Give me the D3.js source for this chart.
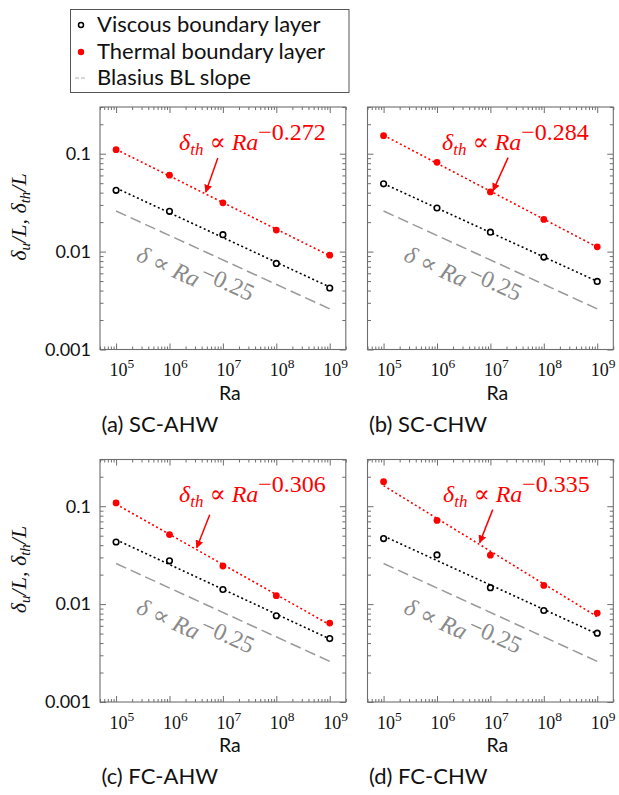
<!DOCTYPE html>
<html><head><meta charset="utf-8">
<script src="https://cdn.jsdelivr.net/npm/d3@7"></script>
<style>body{margin:0;background:#fff;} svg{display:block;}</style>
</head><body>
<svg id="chart" width="619" height="795"></svg>
<script>
// ---------------- data ----------------
const raValues = [1e5, 1e6, 1e7, 1e8, 1e9];
const panelCaptions = ['(a) SC-AHW', '(b) SC-CHW', '(c) FC-AHW', '(d) FC-CHW'];
const viscousA = [0.0423, 0.0258, 0.0149, 0.00757, 0.00425];
const viscousB = [0.0492, 0.0279, 0.0158, 0.0088, 0.00496];
const viscousC = [0.0431, 0.0277, 0.0141, 0.0076, 0.00445];
const viscousD = [0.0467, 0.0318, 0.0147, 0.0086, 0.00505];
const thermalA = [0.110, 0.0604, 0.0315, 0.0166, 0.0092];
const thermalB = [0.153, 0.0817, 0.0407, 0.0213, 0.0112];
const thermalC = [0.108, 0.0513, 0.0245, 0.0122, 0.0064];
const thermalD = [0.178, 0.0716, 0.0316, 0.0155, 0.0081];
const thermalExponentLabels = ['−0.272', '−0.284', '−0.306', '−0.335'];
const arrowTipRa = [Math.pow(10, 6.68), Math.pow(10, 7.05), Math.pow(10, 6.51), Math.pow(10, 6.80)];
const blasiusRa = [1e5, 1e9];
const blasiusDelta = [0.026, 0.0026];
const blasiusExponentLabel = '−0.25';
const xMajorTicks = [1e5, 1e6, 1e7, 1e8, 1e9];
const xTickExponents = ['5', '6', '7', '8', '9'];
const yMajorTicks = [0.001, 0.01, 0.1];
const yTickLabels = ['0.001', '0.01', '0.1'];
const legendLabels = ['Viscous boundary layer', 'Thermal boundary layer', 'Blasius BL slope'];
const xDomain = [5e4, 2e9];
const yDomain = [0.001, 0.3];

// ---------------- layout ----------------
const viscousSets = [viscousA, viscousB, viscousC, viscousD];
const thermalSets = [thermalA, thermalB, thermalC, thermalD];
const W = 245.8, H = 242.5;
const panelPos = [
  {left: 100, top: 107, showY: true, redX: 79},
  {left: 367.5, top: 107, showY: false, redX: 74.5},
  {left: 100, top: 459.5, showY: true, redX: 79},
  {left: 367.5, top: 459.5, showY: false, redX: 75.5}
];
const arrowOffsets = [[12, -34], [15, -33], [13, -33], [13, -33]];

const SANS = 'Lato, "Open Sans", sans-serif';
const SERIF = '"Liberation Serif", "DejaVu Serif", serif';
const FRAME = '#6e6e6e';
const RED = '#ff0000';
const GRAY = '#9a9a9a';

const svg = d3.select('#chart');
const defs = svg.append('defs');
defs.append('marker').attr('id', 'arrowRed')
  .attr('viewBox', '0 0 10 10').attr('refX', 9).attr('refY', 5)
  .attr('markerWidth', 8).attr('markerHeight', 8).attr('markerUnits', 'userSpaceOnUse')
  .attr('orient', 'auto')
  .append('path').attr('d', 'M0,0 L10,5 L0,10 z').attr('fill', RED);

const x = d3.scaleLog().domain(xDomain).range([0, W]);
const y = d3.scaleLog().domain(yDomain).range([H, 0]);

function minorTicks(domain, majors) {
  const out = [];
  const lo = Math.floor(Math.log10(domain[0])), hi = Math.ceil(Math.log10(domain[1]));
  for (let e = lo; e <= hi; e++) {
    for (let m = 1; m <= 9; m++) {
      const v = m * Math.pow(10, e);
      if (v >= domain[0] * 0.999 && v <= domain[1] * 1.001 && !majors.some(t => Math.abs(t - v) / v < 1e-6)) out.push(v);
    }
  }
  return out;
}
const xMinor = minorTicks(xDomain, xMajorTicks);
const yMinor = minorTicks(yDomain, yMajorTicks);

function logFit(xs, ys) {
  const lx = xs.map(Math.log10), ly = ys.map(Math.log10);
  const mx = d3.mean(lx), my = d3.mean(ly);
  let sxy = 0, sxx = 0;
  lx.forEach((v, i) => { sxy += (v - mx) * (ly[i] - my); sxx += (v - mx) * (v - mx); });
  const slope = sxy / sxx;
  return r => Math.pow(10, my + slope * (Math.log10(r) - mx));
}

panelPos.forEach((p, i) => {
  const g = svg.append('g').attr('transform', `translate(${p.left},${p.top})`);

  const styleAxis = sel => {
    sel.select('.domain').remove();
    sel.selectAll('line').attr('stroke', FRAME).attr('stroke-width', 1);
    sel.selectAll('text').remove();
  };
  g.append('g').attr('transform', `translate(0,${H})`)
    .call(d3.axisBottom(x).tickValues(xMajorTicks).tickSize(-6).tickFormat('')).call(styleAxis);
  g.append('g').attr('transform', `translate(0,${H})`)
    .call(d3.axisBottom(x).tickValues(xMinor).tickSize(-3).tickFormat('')).call(styleAxis);
  g.append('g')
    .call(d3.axisTop(x).tickValues(xMajorTicks).tickSize(-6).tickFormat('')).call(styleAxis);
  g.append('g')
    .call(d3.axisTop(x).tickValues(xMinor).tickSize(-3).tickFormat('')).call(styleAxis);
  g.append('g')
    .call(d3.axisLeft(y).tickValues(yMajorTicks).tickSize(-6).tickFormat('')).call(styleAxis);
  g.append('g')
    .call(d3.axisLeft(y).tickValues(yMinor).tickSize(-3.5).tickFormat('')).call(styleAxis);
  g.append('g').attr('transform', `translate(${W},0)`)
    .call(d3.axisRight(y).tickValues(yMajorTicks).tickSize(-6).tickFormat('')).call(styleAxis);
  g.append('g').attr('transform', `translate(${W},0)`)
    .call(d3.axisRight(y).tickValues(yMinor).tickSize(-3.5).tickFormat('')).call(styleAxis);

  g.append('rect').attr('x', 0).attr('y', 0).attr('width', W).attr('height', H)
    .attr('fill', 'none').attr('stroke', FRAME).attr('stroke-width', 1.1);

  // x tick labels
  xMajorTicks.forEach((t, k) => {
    const tx = g.append('text').attr('x', x(t) - 6.5).attr('y', H + 26.5)
      .attr('font-family', SERIF).attr('font-size', 18).attr('fill', '#111');
    tx.append('tspan').text('10');
    tx.append('tspan').attr('dy', -8).attr('font-size', 13.5).text(xTickExponents[k]);
  });
  if (p.showY) {
    yMajorTicks.forEach((t, k) => {
      g.append('text').attr('x', -9).attr('y', y(t)).attr('dy', '0.35em')
        .attr('text-anchor', 'end').attr('font-family', SANS).attr('font-size', 18)
        .attr('fill', '#111').text(yTickLabels[k]);
    });
    const yl = svg.append('text')
      .attr('transform', `translate(26,${p.top + 110}) rotate(-90)`)
      .attr('text-anchor', 'middle').attr('font-family', SERIF).attr('font-size', 22)
      .attr('font-style', 'italic').attr('fill', '#111');
    yl.append('tspan').text('δ');
    yl.append('tspan').attr('dy', 4).attr('font-size', 15).text('u');
    yl.append('tspan').attr('dy', -4).text('/L, δ');
    yl.append('tspan').attr('dy', 4).attr('font-size', 15).text('th');
    yl.append('tspan').attr('dy', -4).text('/L');
  }
  g.append('text').attr('x', W / 2 + 7).attr('y', H + 50).attr('text-anchor', 'middle')
    .attr('font-family', SANS).attr('font-size', 19.5).attr('fill', '#111').text('Ra');
  g.append('text').attr('x', 1.5).attr('y', H + 82)
    .attr('font-family', SANS).attr('font-size', 22).attr('fill', '#111').text(panelCaptions[i]);

  const plot = g.append('g');
  plot.append('path')
    .attr('d', d3.line().x(d => x(d[0])).y(d => y(d[1]))(blasiusRa.map((r, k) => [r, blasiusDelta[k]])))
    .attr('stroke', GRAY).attr('stroke-width', 1.5).attr('stroke-dasharray', '11,5').attr('fill', 'none');

  const vFit = logFit(raValues, viscousSets[i]);
  const tFit = logFit(raValues, thermalSets[i]);
  plot.append('path').attr('d', d3.line().x(d => x(d)).y(d => y(vFit(d)))([raValues[0], raValues[4]]))
    .attr('stroke', '#000').attr('stroke-width', 1.6).attr('stroke-dasharray', '2,2.6').attr('fill', 'none');
  plot.append('path').attr('d', d3.line().x(d => x(d)).y(d => y(tFit(d)))([raValues[0], raValues[4]]))
    .attr('stroke', RED).attr('stroke-width', 1.6).attr('stroke-dasharray', '2,2.6').attr('fill', 'none');

  plot.selectAll('.v').data(raValues).enter().append('circle')
    .attr('cx', d => x(d)).attr('cy', (d, k) => y(viscousSets[i][k])).attr('r', 2.8)
    .attr('fill', '#fff').attr('stroke', '#000').attr('stroke-width', 1.6);
  plot.selectAll('.t').data(raValues).enter().append('circle')
    .attr('cx', d => x(d)).attr('cy', (d, k) => y(thermalSets[i][k])).attr('r', 3.4)
    .attr('fill', RED);

  // red annotation
  const rt = g.append('text').attr('x', p.redX).attr('y', 42.5)
    .attr('font-family', SERIF).attr('font-size', 24).attr('fill', RED);
  rt.append('tspan').attr('font-style', 'italic').text('δ');
  rt.append('tspan').attr('font-style', 'italic').attr('font-size', 17).attr('dy', 5).text('th');
  rt.append('tspan').attr('dy', -5).text(' ∝ ');
  rt.append('tspan').attr('font-style', 'italic').text('Ra');
  rt.append('tspan').attr('dy', -10).text(thermalExponentLabels[i]);

  const tipX = x(arrowTipRa[i]), tipY = y(tFit(arrowTipRa[i])) - 2;
  g.append('line').attr('x1', tipX + arrowOffsets[i][0]).attr('y1', tipY + arrowOffsets[i][1])
    .attr('x2', tipX).attr('y2', tipY).attr('stroke', RED).attr('stroke-width', 1.5)
    .attr('marker-end', 'url(#arrowRed)');

  const ang = Math.atan2(y(blasiusDelta[1]) - y(blasiusDelta[0]), x(blasiusRa[1]) - x(blasiusRa[0])) * 180 / Math.PI;
  const gt = g.append('text').attr('transform', `translate(35,153) rotate(${ang})`)
    .attr('font-family', SERIF).attr('font-size', 24).attr('fill', '#8a8a8a');
  gt.append('tspan').attr('font-style', 'italic').text('δ');
  gt.append('tspan').text(' ∝ ');
  gt.append('tspan').attr('font-style', 'italic').text('Ra');
  gt.append('tspan').attr('dy', -10).text(blasiusExponentLabel);
});

// ---------------- legend ----------------
const lg = svg.append('g');
lg.append('rect').attr('x', 70.5).attr('y', 9.5).attr('width', 278.5).attr('height', 83)
  .attr('fill', '#fff').attr('stroke', '#555').attr('stroke-width', 1);
const rowY = [24, 51, 77];
lg.append('circle').attr('cx', 81).attr('cy', rowY[0] + 1).attr('r', 2.5)
  .attr('fill', '#fff').attr('stroke', '#000').attr('stroke-width', 1.5);
lg.append('circle').attr('cx', 81).attr('cy', rowY[1] + 1).attr('r', 3.2).attr('fill', RED);
lg.append('line').attr('x1', 75).attr('x2', 86).attr('y1', rowY[2] + 1).attr('y2', rowY[2] + 1)
  .attr('stroke', '#b0b0b0').attr('stroke-width', 1.2).attr('stroke-dasharray', '4,2');
legendLabels.forEach((t, k) => {
  lg.append('text').attr('x', 97).attr('y', rowY[k]).attr('dy', '0.35em')
    .attr('font-family', SANS).attr('font-size', 22).attr('fill', '#111').text(t);
});
</script>
</body></html>
